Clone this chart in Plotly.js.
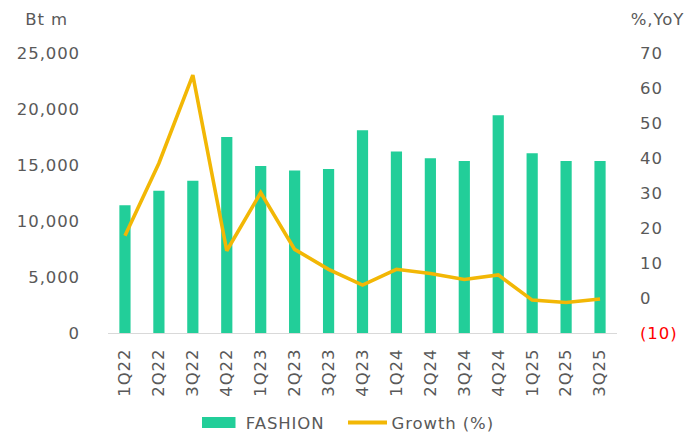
<!DOCTYPE html>
<html>
<head>
<meta charset="utf-8">
<script src="https://cdn.plot.ly/plotly-3.0.1.min.js"></script>
<style>
html,body{margin:0;padding:0;background:#fff;}
#chart{width:689px;height:436px;}
#chart svg text{letter-spacing:0.9px;}
</style>
</head>
<body>
<div id="chart"></div>
<script>
const quarters = ["1Q22","2Q22","3Q22","4Q22","1Q23","2Q23","3Q23","4Q23","1Q24","2Q24","3Q24","4Q24","1Q25","2Q25","3Q25"];
const fashion = [11400, 12700, 13600, 17500, 14900, 14500, 14650, 18100, 16200, 15600, 15350, 19450, 16050, 15350, 15350];
const growth = [17.8, 38.5, 63.7, 13.5, 30.1, 13.9, 8.2, 3.7, 8.2, 7.0, 5.3, 6.6, -0.6, -1.3, -0.3];
const leftTickVals = [0, 5000, 10000, 15000, 20000, 25000];
const leftTickText = ["0", "5,000", "10,000", "15,000", "20,000", "25,000"];
const rightTickVals = [-10, 0, 10, 20, 30, 40, 50, 60, 70];
const rightTickText = ["<span style='color:#ff0000'>(10)</span>", "0", "10", "20", "30", "40", "50", "60", "70"];
const seriesNames = ["FASHION", "Growth (%)"];

const font = "DejaVu Sans";
const grey = "#595959";
const green = "#22CE99";
const gold = "#F2B705";
const fs = 16.5;

const traces = [
  {
    type: "bar", x: quarters, y: fashion, name: seriesNames[0],
    marker: {color: green, line: {width: 0}},
    yaxis: "y", showlegend: false
  },
  {
    type: "scatter", mode: "lines", x: quarters, y: growth, name: seriesNames[1],
    line: {color: gold, width: 3.6},
    yaxis: "y2", showlegend: false
  }
];

const layout = {
  width: 689, height: 436,
  margin: {l: 108, r: 72, t: 53, b: 103, autoexpand: false},
  paper_bgcolor: "#fff", plot_bgcolor: "#fff",
  font: {family: font, size: fs, color: grey},
  bargap: 0.67,
  showlegend: false,
  xaxis: {
    type: "category", showgrid: false, zeroline: false, automargin: false,
    showline: true, linecolor: "#d9d9d9", linewidth: 1,
    tickangle: -90, ticks: "", ticklabelstandoff: 8,
    tickfont: {family: font, size: fs, color: grey}
  },
  yaxis: {
    range: [0, 25000], tickvals: leftTickVals, ticktext: leftTickText, automargin: false,
    showgrid: false, zeroline: false, showline: false, ticks: "",
    ticklabelstandoff: 27,
    tickfont: {family: font, size: fs, color: grey}
  },
  yaxis2: {
    overlaying: "y", side: "right", automargin: false,
    range: [-10, 70], tickvals: rightTickVals, ticktext: rightTickText,
    showgrid: false, zeroline: false, showline: false, ticks: "",
    ticklabelstandoff: 22,
    tickfont: {family: font, size: fs, color: grey}
  },
  shapes: [
    {type: "rect", xref: "paper", yref: "paper", x0: (202 - 108) / 509, x1: (235.5 - 108) / 509,
     y0: (333 - 428) / 280, y1: (333 - 417) / 280, fillcolor: green, line: {width: 0}},
    {type: "line", xref: "paper", yref: "paper", x0: (348 - 108) / 509, x1: (387 - 108) / 509,
     y0: (333 - 422.5) / 280, y1: (333 - 422.5) / 280, line: {color: gold, width: 4}}
  ],
  annotations: [
    {text: "Bt m", xref: "paper", yref: "paper", x: (46 - 108) / 509, y: (333 - 19) / 280, xanchor: "center", yanchor: "middle",
     showarrow: false, font: {family: font, size: fs, color: grey}},
    {text: "%,YoY", xref: "paper", yref: "paper", x: (658 - 108) / 509, y: (333 - 19) / 280, xanchor: "center", yanchor: "middle",
     showarrow: false, font: {family: font, size: fs, color: grey}},
    {text: seriesNames[0], xref: "paper", yref: "paper", x: (285 - 108) / 509, y: (333 - 423) / 280, xanchor: "center", yanchor: "middle",
     showarrow: false, font: {family: font, size: fs, color: grey}},
    {text: seriesNames[1], xref: "paper", yref: "paper", x: (443 - 108) / 509, y: (333 - 423) / 280, xanchor: "center", yanchor: "middle",
     showarrow: false, font: {family: font, size: fs, color: grey}}
  ]
};

Plotly.newPlot("chart", traces, layout, {displayModeBar: false, staticPlot: true});
</script>
</body>
</html>
